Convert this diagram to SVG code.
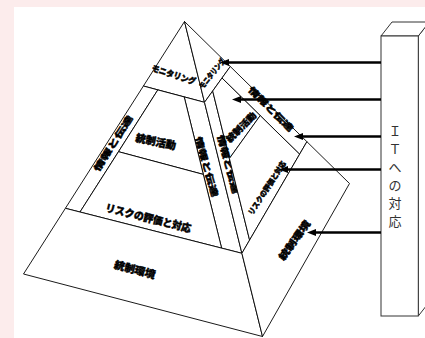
<svg xmlns="http://www.w3.org/2000/svg" width="425" height="338" viewBox="0 0 425 338">
<defs>
<style>
.face{fill:#fff;stroke:#000;stroke-width:0.9;stroke-linejoin:miter}
.lbl{font-family:"Noto Sans CJK JP","Noto Sans CJK SC",sans-serif;font-weight:900;fill:#000;stroke:#000;stroke-width:0.45;text-anchor:middle;dominant-baseline:central}
.arr{stroke:#000;stroke-width:2.4;fill:none;marker-end:url(#ah)}
.box{fill:#fff;stroke:#333;stroke-width:1}
.boxt{font-family:"Noto Sans CJK JP",sans-serif;font-size:13px;fill:#333;text-anchor:middle}
</style>
<marker id="ah" markerUnits="userSpaceOnUse" markerWidth="9" markerHeight="8" refX="5" refY="4" orient="auto">
<path d="M0,0.5 L9,4 L0,7.5 z" fill="#000"/>
</marker>
</defs>
<rect x="0" y="0" width="425" height="338" fill="#fcecec"/>
<rect x="14" y="7" width="411" height="331" fill="#fff"/>

<g id="pyramid">
<g id="front-monitoring">
<polygon class="face" points="184.5,21.5 143.4,86 204.5,102.3"/>
<text class="lbl" font-size="8.5" transform="translate(174,74) rotate(18)" textLength="46" lengthAdjust="spacingAndGlyphs">モニタリング</text>
</g>
<g id="front-info-left">
<polygon class="face" points="143.4,86 157.8,89.9 80,212 65.4,208.3"/>
<text class="lbl" font-size="8.5" transform="translate(112.5,143) rotate(-57.5)" textLength="64" lengthAdjust="spacingAndGlyphs">情報と伝達</text>
</g>
<g id="front-info-right">
<polygon class="face" points="184.2,96.9 204.5,102.3 241.9,253.3 221.6,248.1"/>
<text class="lbl" font-size="8.5" transform="translate(207.5,166.5) rotate(74)" textLength="62" lengthAdjust="spacingAndGlyphs">情報と伝達</text>
</g>
<g id="front-control-activities">
<polygon class="face" points="157.8,89.9 184.2,96.9 203.3,174.4 118.5,151.7"/>
<text class="lbl" font-size="10.5" transform="translate(156,141) rotate(12)" textLength="41" lengthAdjust="spacingAndGlyphs">統制活動</text>
</g>
<g id="front-risk">
<polygon class="face" points="118.5,151.7 203.3,174.4 221.6,248.1 80,212"/>
<text class="lbl" font-size="10.5" transform="translate(148.5,217.5) rotate(14)" textLength="88" lengthAdjust="spacingAndGlyphs">リスクの評価と対応</text>
</g>
<g id="front-environment">
<polygon class="face" points="65.4,208.3 241.9,253.3 262.5,336.5 23.5,274"/>
<text class="lbl" font-size="10.5" transform="translate(135,269) rotate(15)" textLength="42" lengthAdjust="spacingAndGlyphs">統制環境</text>
</g>
<g id="side-monitoring">
<polygon class="face" points="184.5,21.5 204.5,102.3 230.3,66.5"/>
<text class="lbl" font-size="7.5" transform="translate(211.5,73) rotate(-51)" textLength="36" lengthAdjust="spacingAndGlyphs">モニタリング</text>
</g>
<g id="side-info-left">
<polygon class="face" points="204.5,102.3 212.7,91 249.6,240.1 241.9,253.3"/>
</g>
<g id="side-info-outer">
<polygon class="face" points="222,78 230.3,66.5 306.9,141.7 299.6,154.2"/>
<text class="lbl" font-size="8.5" transform="translate(271.5,108.5) rotate(45)" textLength="59" lengthAdjust="spacingAndGlyphs">情報と伝達</text>
</g>
<g id="side-control-activities">
<polygon class="face" points="212.7,91 222,78 260.2,115.6 229.4,158.5"/>
<text class="lbl" font-size="9" transform="translate(241,127) rotate(-45)" textLength="38" lengthAdjust="spacingAndGlyphs">統制活動</text>
</g>
<text class="lbl" font-size="8.5" transform="translate(229,164) rotate(75)" textLength="60" lengthAdjust="spacingAndGlyphs">情報と伝達</text>
<g id="side-risk">
<polygon class="face" points="229.4,158.5 260.2,115.6 299.6,154.2 249.6,240.1"/>
<text class="lbl" font-size="7.5" transform="translate(266.5,187.5) rotate(-57)" textLength="62" lengthAdjust="spacingAndGlyphs">リスクの評価と対応</text>
</g>
<g id="side-environment">
<polygon class="face" points="241.9,253.3 306.9,141.7 349.5,183.5 262.5,336.5"/>
<text class="lbl" font-size="9.5" transform="translate(294,240) rotate(-54)" textLength="46" lengthAdjust="spacingAndGlyphs">統制環境</text>
</g>
</g>

<g id="it-box">
<polygon class="box" points="418.3,36 429.3,22 429.3,302 418.3,316"/>
<polygon class="box" points="381,36 392,22 429.3,22 418.3,36"/>
<rect class="box" x="381" y="36" width="37.3" height="280"/>
<text class="boxt"><tspan x="395" y="136">Ｉ</tspan><tspan x="395" y="154">Ｔ</tspan><tspan x="395" y="172">へ</tspan><tspan x="395" y="190">の</tspan><tspan x="395" y="208">対</tspan><tspan x="395" y="226">応</tspan></text>
</g>

<g id="connectors">
<line class="arr" x1="381" y1="62.5" x2="224" y2="62.5"/>
<line class="arr" x1="381" y1="99.5" x2="236" y2="99.5"/>
<line class="arr" x1="381" y1="136.5" x2="298" y2="136.5"/>
<line class="arr" x1="381" y1="169.5" x2="283" y2="169.5"/>
<line class="arr" x1="381" y1="232.5" x2="311" y2="232.5"/>
</g>
</svg>
